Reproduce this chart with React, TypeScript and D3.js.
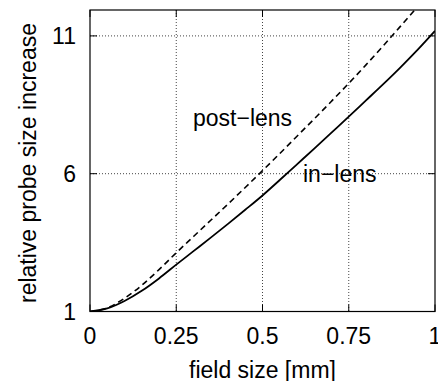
import React from "react";
import * as d3 from "d3";

// Field size in mm
const fieldSize = [0, 0.05, 0.1, 0.15, 0.2, 0.25, 0.3, 0.35, 0.4, 0.45, 0.5, 0.55, 0.6, 0.65, 0.7, 0.75, 0.8, 0.85, 0.9, 0.95, 1.0];
// Relative probe size increase, in-lens detector (solid)
const inLens = [1.0, 1.11, 1.38, 1.75, 2.2, 2.7, 3.19, 3.68, 4.18, 4.69, 5.21, 5.77, 6.34, 6.91, 7.49, 8.07, 8.66, 9.25, 9.86, 10.5, 11.18];
// Relative probe size increase, post-lens detector (dashed)
const postLens = [1.0, 1.13, 1.48, 1.95, 2.52, 3.13, 3.72, 4.31, 4.9, 5.5, 6.11, 6.73, 7.36, 7.99, 8.63, 9.28, 9.95, 10.64, 11.35, 12.07, 12.8];

const xTicks = [0, 0.25, 0.5, 0.75, 1];
const xTickLabels = ["0", "0.25", "0.5", "0.75", "1"];
const yTicks = [1, 6, 11];
const yTickLabels = ["1", "6", "11"];

const W = 438;
const H = 381;
const left = 90;
const right = 435;
const top = 10;
const bottom = 311.5;
const FONT = "'Liberation Sans', Arial, Helvetica, sans-serif";
const FS = 23;
const TICK = 7;

export default function App() {
  const x = d3.scaleLinear().domain([0, 1]).range([left, right]);
  const y = d3.scaleLinear().domain([1, 11.94]).range([bottom, top]);

  const line = (vals: number[]) =>
    d3
      .line<number>()
      .x((_, i) => x(fieldSize[i]))
      .y((v) => y(v))
      .curve(d3.curveMonotoneX)(vals) || "";

  return (
    <svg
      width={W}
      height={H}
      style={{ position: "absolute", left: 0, top: 0, background: "#fff" }}
      fontFamily={FONT}
    >
      <defs>
        <clipPath id="plotArea">
          <rect x={left} y={top} width={right - left} height={bottom - top} />
        </clipPath>
      </defs>

      {/* grid */}
      {xTicks.slice(1, -1).map((t) => (
        <line
          key={"gx" + t}
          x1={x(t)}
          x2={x(t)}
          y1={top}
          y2={bottom}
          stroke="#444"
          strokeWidth={1}
          strokeDasharray="1,2"
        />
      ))}
      {yTicks.slice(1).map((t) => (
        <line
          key={"gy" + t}
          x1={left}
          x2={right}
          y1={y(t)}
          y2={y(t)}
          stroke="#444"
          strokeWidth={1}
          strokeDasharray="1,2"
        />
      ))}

      {/* ticks, mirrored on all sides */}
      {xTicks.map((t) => (
        <g key={"tx" + t} stroke="#000" strokeWidth={1}>
          <line x1={x(t)} x2={x(t)} y1={bottom} y2={bottom - TICK} />
          <line x1={x(t)} x2={x(t)} y1={top} y2={top + TICK} />
        </g>
      ))}
      {yTicks.map((t) => (
        <g key={"ty" + t} stroke="#000" strokeWidth={1}>
          <line x1={left} x2={left + TICK} y1={y(t)} y2={y(t)} />
          <line x1={right} x2={right - TICK} y1={y(t)} y2={y(t)} />
        </g>
      ))}

      {/* curves */}
      <g clipPath="url(#plotArea)" fill="none" stroke="#000">
        <path d={line(postLens)} strokeWidth={1.6} strokeDasharray="6,4" />
        <path d={line(inLens)} strokeWidth={1.8} />
      </g>

      {/* frame */}
      <rect
        x={left}
        y={top}
        width={right - left}
        height={bottom - top}
        fill="none"
        stroke="#000"
        strokeWidth={1.2}
      />

      {/* tick labels */}
      {xTicks.map((t, i) => (
        <text key={"lx" + t} x={x(t)} y={344} textAnchor="middle" fontSize={FS}>
          {xTickLabels[i]}
        </text>
      ))}
      {yTicks.map((t, i) => (
        <text key={"ly" + t} x={76} y={y(t) + 8.3} textAnchor="end" fontSize={FS}>
          {yTickLabels[i]}
        </text>
      ))}

      {/* axis titles */}
      <text x={(left + right) / 2} y={378} textAnchor="middle" fontSize={FS}>
        field size [mm]
      </text>
      <text
        transform={`translate(36, 163) rotate(-90)`}
        textAnchor="middle"
        fontSize={FS}
      >
        relative probe size increase
      </text>

      {/* curve labels */}
      <text x={193} y={126} fontSize={FS}>
        post−lens
      </text>
      <text x={303} y={182} fontSize={FS}>
        in−lens
      </text>
    </svg>
  );
}
